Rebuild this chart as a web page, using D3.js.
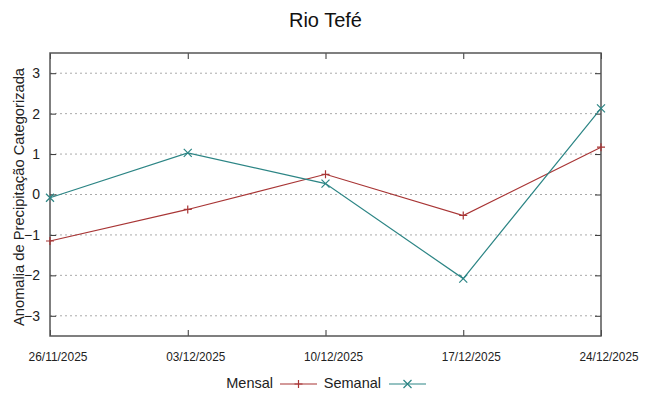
<!DOCTYPE html>
<html>
<head>
<meta charset="utf-8">
<script src="https://cdn.jsdelivr.net/npm/d3@7"></script>
<style>
  body { margin: 0; background: #fff; }
  text { font-family: 'Liberation Sans', Arial, sans-serif; }
</style>
</head>
<body>
<svg id="chart" width="649" height="396"></svg>
<script>
// ========= Data ========= //
const dates = ['26/11/2025', '03/12/2025', '10/12/2025', '17/12/2025', '24/12/2025'];
const mensal = [-1.15, -0.37, 0.50, -0.52, 1.17];
const semanal = [-0.08, 1.03, 0.27, -2.08, 2.13];
const yTicks = [-3, -2, -1, 0, 1, 2, 3];

const parse = d3.timeParse('%d/%m/%Y');
const margin = { left: 50, right: 48, top: 53, bottom: 60 };
const width = 649, height = 396;

const svg = d3.select('#chart');

const x = d3.scaleTime()
  .domain([parse(dates[0]), parse(dates[dates.length - 1])])
  .range([margin.left, width - margin.right]);

const y = d3.scaleLinear()
  .domain([-3.5, 3.5])
  .range([height - margin.bottom, margin.top]);

// ========= Grid ========= //
svg.append('g')
  .selectAll('line')
  .data(yTicks)
  .join('line')
    .attr('x1', margin.left)
    .attr('x2', width - margin.right)
    .attr('y1', d => y(d))
    .attr('y2', d => y(d))
    .attr('stroke', '#aaa')
    .attr('stroke-width', 1)
    .attr('stroke-dasharray', '2,3');

// ========= Axes ========= //
const yAxis = svg.append('g')
  .attr('transform', `translate(${margin.left},0)`)
  .call(d3.axisLeft(y).tickValues(yTicks).tickSize(-6).tickPadding(10).tickFormat(d3.format('d')));
yAxis.select('.domain').remove();
yAxis.selectAll('text').attr('font-size', 14).attr('fill', '#222');

const yAxisR = svg.append('g')
  .attr('transform', `translate(${width - margin.right},0)`)
  .call(d3.axisRight(y).tickValues(yTicks).tickSize(-6).tickFormat(''));
yAxisR.select('.domain').remove();

const xAxis = svg.append('g')
  .attr('transform', `translate(0,${height - margin.bottom})`)
  .call(d3.axisBottom(x).tickValues(dates.map(parse)).tickSize(-6).tickPadding(15)
    .tickFormat(d3.timeFormat('%d/%m/%Y')));
xAxis.select('.domain').remove();
// labels are condensed and sit slightly right of their ticks
xAxis.selectAll('.tick text')
  .attr('font-size', 13.5)
  .attr('fill', '#222')
  .attr('x', 7.5)
  .attr('textLength', 59)
  .attr('lengthAdjust', 'spacingAndGlyphs');

const xAxisT = svg.append('g')
  .attr('transform', `translate(0,${margin.top})`)
  .call(d3.axisTop(x).tickValues(dates.map(parse)).tickSize(-6).tickFormat(''));
xAxisT.select('.domain').remove();

svg.selectAll('.tick line').attr('stroke', '#333');

// frame
svg.append('rect')
  .attr('x', margin.left)
  .attr('y', margin.top)
  .attr('width', width - margin.left - margin.right)
  .attr('height', height - margin.top - margin.bottom)
  .attr('fill', 'none')
  .attr('stroke', '#555')
  .attr('stroke-width', 1.5);

// ========= Series ========= //
const series = [
  { name: 'Mensal', values: mensal, color: '#a83535', marker: 'plus' },
  { name: 'Semanal', values: semanal, color: '#2c8585', marker: 'cross' }
];

const line = d3.line()
  .x((d, i) => x(parse(dates[i])))
  .y(d => y(d));

function drawMarker(g, type, cx, cy, color) {
  const s = 4;
  if (type === 'plus') {
    g.append('path').attr('d', `M${cx - s},${cy}H${cx + s}M${cx},${cy - s}V${cy + s}`)
      .attr('stroke', color).attr('stroke-width', 1.2);
  } else {
    g.append('path').attr('d', `M${cx - s},${cy - s}L${cx + s},${cy + s}M${cx - s},${cy + s}L${cx + s},${cy - s}`)
      .attr('stroke', color).attr('stroke-width', 1.2);
  }
}

series.forEach(s => {
  svg.append('path')
    .attr('d', line(s.values))
    .attr('fill', 'none')
    .attr('stroke', s.color)
    .attr('stroke-width', 1.2);
  const g = svg.append('g');
  s.values.forEach((v, i) => drawMarker(g, s.marker, x(parse(dates[i])), y(v), s.color));
});

// ========= Labels ========= //
svg.append('text')
  .attr('x', width / 2 + 1)
  .attr('y', 27)
  .attr('text-anchor', 'middle')
  .attr('font-size', 20)
  .attr('fill', '#111')
  .text('Rio Tefé');

svg.append('text')
  .attr('transform', `translate(24,197) rotate(-90)`)
  .attr('text-anchor', 'middle')
  .attr('font-size', 14.7)
  .attr('fill', '#222')
  .text('Anomalia de Precipitação Categorizada');

// ========= Legend ========= //
const legend = [
  { name: 'Mensal', color: '#a83535', marker: 'plus', tx: 273, lx: 280 },
  { name: 'Semanal', color: '#2c8585', marker: 'cross', tx: 381, lx: 389 }
];
const ly = 384;
legend.forEach(l => {
  svg.append('text')
    .attr('x', l.tx)
    .attr('y', ly + 4)
    .attr('text-anchor', 'end')
    .attr('font-size', 14.5)
    .attr('fill', '#222')
    .text(l.name);
  svg.append('line')
    .attr('x1', l.lx).attr('x2', l.lx + 37)
    .attr('y1', ly).attr('y2', ly)
    .attr('stroke', l.color).attr('stroke-width', 1.2);
  drawMarker(svg.append('g'), l.marker, l.lx + 18.5, ly, l.color);
});
</script>
</body>
</html>
